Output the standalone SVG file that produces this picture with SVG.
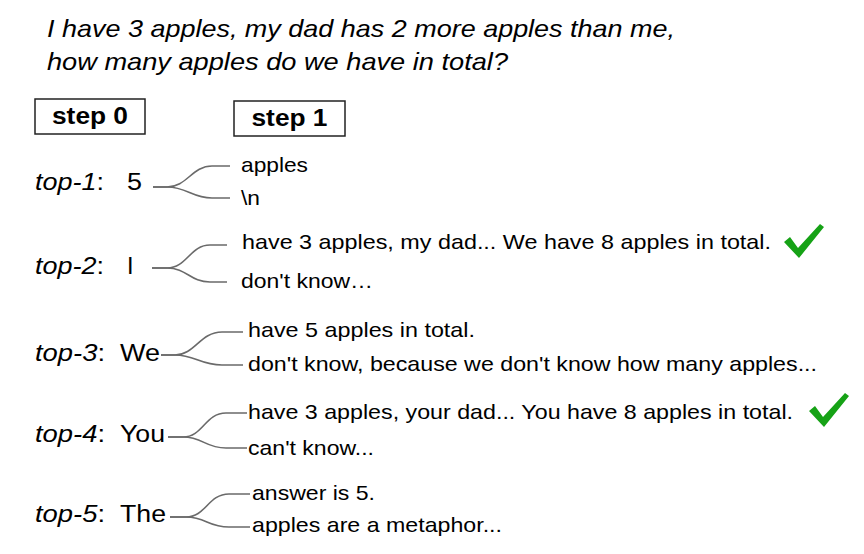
<svg xmlns="http://www.w3.org/2000/svg" width="864" height="554" viewBox="0 0 864 554">
<style>
text{font-family:"Liberation Sans",Arial,sans-serif;fill:#000}
.title{font-size:24px;font-style:italic}
.step{font-size:23px;font-weight:bold;text-anchor:middle}
.lab{font-size:23.5px}
.it{font-style:italic}
.opt{font-size:21px}
.box{fill:#fff;stroke:#222;stroke-width:1.5}
.conn path{fill:none;stroke:#6a6a6a;stroke-width:1.6}
.check{fill:#16a216}
</style>
<defs>
<polygon id="tick" points="0,17 6,12 14,23 36,-1 40,2 15,33"/>
</defs>
<rect width="864" height="554" fill="#fff"/>
<g id="question">
<text class="title" x="47" y="37" textLength="628" lengthAdjust="spacingAndGlyphs">I have 3 apples, my dad has 2 more apples than me,</text>
<text class="title" x="47" y="70" textLength="461" lengthAdjust="spacingAndGlyphs">how many apples do we have in total?</text>
</g>
<g id="step0">
<rect class="box" x="35" y="99" width="110" height="35"/>
<text class="step" x="90" y="124" textLength="76" lengthAdjust="spacingAndGlyphs">step 0</text>
</g>
<g id="step1">
<rect class="box" x="234" y="101" width="111" height="35"/>
<text class="step" x="289.5" y="126" textLength="76" lengthAdjust="spacingAndGlyphs">step 1</text>
</g>
<g class="conn" id="connectors">
<path d="M153,187 H167 C187,187 192,166 212,166 H230"/>
<path d="M153,187 H167 C187,187 192,198 212,198 H230"/>
<path d="M152,268 H167 C187,268 190,245 210,245 H227"/>
<path d="M152,268 H167 C187,268 190,282 210,282 H227"/>
<path d="M161,355 H175 C195,355 200,332 222,332 H243"/>
<path d="M161,355 H175 C195,355 200,365 222,365 H243"/>
<path d="M168,437 H183 C203,437 205,413 226,413 H247"/>
<path d="M168,437 H183 C203,437 205,448 226,448 H247"/>
<path d="M170,517 H186 C206,517 208,494 229,494 H250"/>
<path d="M170,517 H186 C206,517 208,527 229,527 H250"/>
</g>
<g id="top1">
<text class="lab" x="35" y="190" textLength="69" lengthAdjust="spacingAndGlyphs"><tspan class="it">top-1</tspan>:</text>
<text class="lab" x="127" y="190" textLength="15" lengthAdjust="spacingAndGlyphs">5</text>
<text class="opt" x="241" y="172" textLength="67" lengthAdjust="spacingAndGlyphs">apples</text>
<text class="opt" x="241" y="205" textLength="19" lengthAdjust="spacingAndGlyphs">\n</text>
</g>
<g id="top2">
<text class="lab" x="35" y="274" textLength="69" lengthAdjust="spacingAndGlyphs"><tspan class="it">top-2</tspan>:</text>
<text class="lab" x="127" y="274">I</text>
<text class="opt" x="242" y="249" textLength="529" lengthAdjust="spacingAndGlyphs">have 3 apples, my dad... We have 8 apples in total.</text>
<text class="opt" x="241" y="288" textLength="132" lengthAdjust="spacingAndGlyphs">don't know…</text>
<use href="#tick" class="check" x="784" y="225"/>
</g>
<g id="top3">
<text class="lab" x="35" y="361" textLength="70" lengthAdjust="spacingAndGlyphs"><tspan class="it">top-3</tspan>:</text>
<text class="lab" x="120" y="361" textLength="40" lengthAdjust="spacingAndGlyphs">We</text>
<text class="opt" x="248" y="337" textLength="227" lengthAdjust="spacingAndGlyphs">have 5 apples in total.</text>
<text class="opt" x="248" y="371" textLength="569" lengthAdjust="spacingAndGlyphs">don't know, because we don't know how many apples...</text>
</g>
<g id="top4">
<text class="lab" x="35" y="442" textLength="70" lengthAdjust="spacingAndGlyphs"><tspan class="it">top-4</tspan>:</text>
<text class="lab" x="120" y="442" textLength="45" lengthAdjust="spacingAndGlyphs">You</text>
<text class="opt" x="248" y="419" textLength="545" lengthAdjust="spacingAndGlyphs">have 3 apples, your dad... You have 8 apples in total.</text>
<text class="opt" x="248" y="455" textLength="126" lengthAdjust="spacingAndGlyphs">can't know...</text>
<use href="#tick" class="check" x="809" y="394"/>
</g>
<g id="top5">
<text class="lab" x="35" y="522" textLength="70" lengthAdjust="spacingAndGlyphs"><tspan class="it">top-5</tspan>:</text>
<text class="lab" x="120" y="522" textLength="46" lengthAdjust="spacingAndGlyphs">The</text>
<text class="opt" x="252" y="500" textLength="123" lengthAdjust="spacingAndGlyphs">answer is 5.</text>
<text class="opt" x="252" y="532" textLength="250" lengthAdjust="spacingAndGlyphs">apples are a metaphor...</text>
</g>
</svg>
